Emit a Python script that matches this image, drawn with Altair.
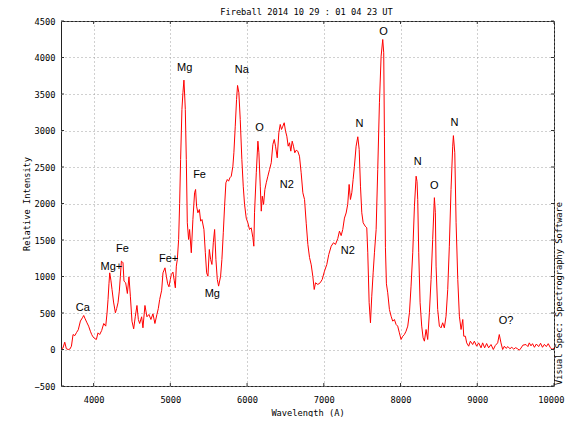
import altair as alt
import pandas as pd

# ---- data ----
wavelength = [3575, 3600, 3624, 3645, 3670, 3690, 3711, 3732, 3755, 3776, 3800, 3828, 3854, 3871, 3890,
              3914, 3935, 3958, 3975, 3992, 4015, 4036, 4057, 4079, 4105, 4132, 4158, 4175, 4188, 4200,
              4210, 4225, 4240, 4260, 4284, 4300, 4318, 4335, 4349, 4362, 4375, 4383, 4396, 4418, 4440,
              4461, 4479, 4500, 4522, 4544, 4565, 4583, 4600, 4626, 4643, 4669, 4695, 4721, 4747, 4773,
              4799, 4825, 4843, 4861, 4887, 4904, 4930, 4948, 4965, 4982, 5000, 5013, 5034, 5050, 5065,
              5078, 5091, 5108, 5121, 5134, 5151, 5164, 5177, 5186, 5195, 5208, 5221, 5238, 5251, 5273,
              5294, 5316, 5329, 5342, 5359, 5378, 5395, 5412, 5438, 5456, 5473, 5490, 5508, 5525, 5542,
              5560, 5577, 5594, 5612, 5629, 5655, 5672, 5690, 5707, 5724, 5742, 5759, 5776, 5794, 5815,
              5828, 5846, 5863, 5876, 5893, 5911, 5932, 5950, 5967, 5989, 6010, 6032, 6054, 6076, 6088,
              6097, 6120, 6141, 6154, 6172, 6185, 6198, 6215, 6232, 6250, 6271, 6293, 6315, 6336, 6354,
              6371, 6393, 6414, 6432, 6449, 6466, 6484, 6501, 6518, 6536, 6553, 6570, 6588, 6605, 6622,
              6640, 6661, 6683, 6705, 6727, 6749, 6771, 6792, 6814, 6836, 6857, 6875, 6892, 6922, 6953,
              6979, 7009, 7039, 7065, 7096, 7126, 7152, 7182, 7204, 7226, 7247, 7269, 7291, 7312, 7330,
              7347, 7365, 7382, 7399, 7421, 7443, 7461, 7478, 7495, 7513, 7539, 7560, 7573, 7591, 7608,
              7625, 7643, 7660, 7682, 7703, 7725, 7747, 7768, 7781, 7790, 7803, 7816, 7833, 7855, 7877,
              7898, 7920, 7942, 7963, 7985, 8007, 8029, 8050, 8072, 8094, 8116, 8137, 8159, 8181, 8203,
              8215, 8224, 8237, 8255, 8276, 8294, 8311, 8333, 8354, 8376, 8398, 8419, 8441, 8454, 8463,
              8484, 8506, 8528, 8549, 8571, 8593, 8615, 8636, 8658, 8680, 8689, 8707, 8724, 8746, 8767,
              8789, 8811, 8824, 8845, 8862, 8888, 8910, 8940, 8962, 8992, 9018, 9049, 9070, 9096, 9122,
              9148, 9179, 9209, 9235, 9266, 9287, 9309, 9331, 9353, 9375, 9400, 9425, 9450, 9475, 9500,
              9525, 9548, 9570, 9595, 9635, 9660, 9678, 9700, 9720, 9745, 9770, 9800, 9825, 9850, 9875,
              9900, 9925, 9950, 9974, 10000]
intensity = [0, 20, 100, 10, 0, 5, 45, 205, 190, 230, 270, 390, 434, 466, 420,
             365, 320, 250, 205, 173, 150, 137, 228, 205, 260, 356, 320, 500, 685, 900,
             1050, 950, 822, 650, 503, 560, 640, 800, 1004, 1210, 1200, 1188, 936, 914, 767,
             996, 730, 388, 283, 456, 603, 411, 356, 448, 297, 603, 448, 480, 411, 489,
             356, 480, 560, 685, 812, 1050, 1119, 1004, 900, 859, 960, 1027, 1060, 950, 845,
             1142, 1233, 1507, 2000, 2603, 3288, 3517, 3690, 3500, 3288, 2603, 1736, 1507, 1644, 1325,
             1781, 2147, 2192, 1963, 1873, 1918, 1758, 1781, 1644, 1325, 1050, 1004, 1370, 1233, 1165,
             1462, 1644, 1233, 959, 868, 1004, 1233, 1599, 1963, 2284, 2329, 2306, 2352, 2374, 2511,
             2695, 3059, 3425, 3617, 3517, 3151, 2603, 2237, 1990, 1800, 1736, 1644, 1667, 1530, 1415,
             1873, 2421, 2854, 2695, 2237, 1895, 2100, 1987, 2192, 2284, 2374, 2466, 2558, 2809, 2877,
             2785, 2626, 2969, 3083, 3014, 3059, 3106, 2991, 2922, 2785, 2832, 2717, 2854, 2785, 2695,
             2730, 2717, 2648, 2421, 2147, 2055, 1730, 1440, 1260, 1160, 1000, 822, 914, 891, 914,
             959, 1073, 1165, 1302, 1415, 1462, 1439, 1520, 1621, 1560, 1644, 1800, 1870, 1990, 2261,
             2055, 2147, 2329, 2511, 2785, 2914, 2740, 2237, 1873, 1736, 1690, 1667, 1325, 640, 366,
             730, 1050, 1325, 1644, 2466, 3380, 4018, 4247, 4065, 2922, 1400, 900, 777, 548, 456,
             388, 411, 343, 320, 228, 137, 182, 205, 251, 320, 503, 868, 1325, 1963, 2374,
             2300, 2055, 1325, 640, 320, 160, 114, 274, 137, 503, 959, 1507, 2080, 1873, 1142,
             548, 320, 297, 366, 297, 456, 822, 1415, 2192, 2785, 2930, 2695, 1736, 959, 456,
             274, 411, 182, 182, 91, 45, 114, 68, 114, 45, 91, 23, 91, 23, 82,
             23, 68, 0, 55, 91, 205, 91, 0, 45, 15, 40, 10, 30, 5, 25,
             10, -10, 20, 60, 68, 40, 91, 50, 80, 30, 75, 40, 85, 30, 70,
             40, 80, 30, 0, 20]

label_text = ["Ca", "Mg+", "Fe", "Fe+", "Mg", "Mg", "Na", "Fe", "O", "N2",
              "N", "O", "N", "O", "N", "N2", "O?"]
label_wl = [3858, 4232, 4375, 4978, 5547, 5186, 5932, 5381, 6163, 6518,
            7465, 7777, 8224, 8441, 8702, 7313, 9375]
label_int = [575, 1133, 1370, 1233, 763, 3850, 3822, 2388, 3028, 2251,
             3083, 4352, 2571, 2237, 3106, 1356, 397]

x_ticks = [4000, 5000, 6000, 7000, 8000, 9000, 10000]
y_ticks = [-500, 0, 500, 1000, 1500, 2000, 2500, 3000, 3500, 4000, 4500]

title = "Fireball 2014 10 29 : 01 04 23 UT"
x_title = "Wavelength (A)"
y_title = "Relative Intensity"
side_text = "Visual Spec: Spectrography Software"

W, H = 493, 365
MONO = "DejaVu Sans Mono"
FS = 8.7

spec = pd.DataFrame({"wl": wavelength, "I": intensity})
labels = pd.DataFrame({"t": label_text, "wl": label_wl, "I": label_int})
xt = pd.DataFrame({"v": x_ticks})
yt = pd.DataFrame({"v": y_ticks})

xs = alt.Scale(domain=[3575, 10000], nice=False, zero=False)
ys = alt.Scale(domain=[-500, 4500], nice=False, zero=False)

common = dict(grid=True, ticks=False, domain=False, format="d", labelOverlap=False,
              labelFont=MONO, labelFontSize=FS, labelColor="black",
              titleFont=MONO, titleFontSize=FS, titleFontWeight="normal", titleColor="black",
              gridColor="#a0a0a0", gridDash=[1, 3])
xaxis = alt.Axis(values=x_ticks, title=x_title, labelPadding=9, titlePadding=5,
                 labelFlush=True, labelFlushOffset=10, **common)
yaxis = alt.Axis(values=y_ticks, title=y_title, labelPadding=6, titlePadding=3,
                 labelFlush=False, **common)


def X(f):
    return alt.X(f, type="quantitative", scale=xs, axis=xaxis)


def Y(f):
    return alt.Y(f, type="quantitative", scale=ys, axis=yaxis)


line = alt.Chart(spec).mark_line(color="#ff0000", strokeWidth=1, clip=True).encode(
    x=X("wl"), y=Y("I"))

text = alt.Chart(labels).mark_text(font="Liberation Sans", fontSize=11, color="black",
                                    align="center", baseline="middle").encode(
    x=X("wl"), y=Y("I"), text="t:N")

tick_len = 3
tc = "#333333"
left_t = alt.Chart(yt).mark_rule(color=tc).encode(
    y=Y("v"), x=alt.value(0), x2=alt.value(tick_len))
right_t = alt.Chart(yt).mark_rule(color=tc).encode(
    y=Y("v"), x=alt.value(W - tick_len), x2=alt.value(W))
bottom_t = alt.Chart(xt).mark_rule(color=tc).encode(
    x=X("v"), y=alt.value(H - tick_len), y2=alt.value(H))
top_t = alt.Chart(xt).mark_rule(color=tc).encode(
    x=X("v"), y=alt.value(0), y2=alt.value(tick_len))

side = alt.Chart(pd.DataFrame({"t": [side_text]})).mark_text(
    font=MONO, fontSize=FS, color="black", angle=270, align="left", baseline="middle"
).encode(x=alt.value(W + 5), y=alt.value(H - 1), text="t:N")

ttl = alt.Chart(pd.DataFrame({"t": [title]})).mark_text(
    font=MONO, fontSize=FS, color="black", align="center", baseline="middle"
).encode(x=alt.value(W / 2 - 1), y=alt.value(-9), text="t:N")

chart = alt.layer(line, text, left_t, right_t, bottom_t, top_t, side, ttl).properties(
    width=W, height=H,
    autosize=alt.AutoSizeParams(type="none"),
    padding={"left": 53, "top": 13, "right": 12, "bottom": 31},
).configure_view(stroke="#222222", strokeWidth=1).configure_axis(labelOverlap=False)

chart.save("out.html", embed_options={"renderer": "svg", "actions": False})
